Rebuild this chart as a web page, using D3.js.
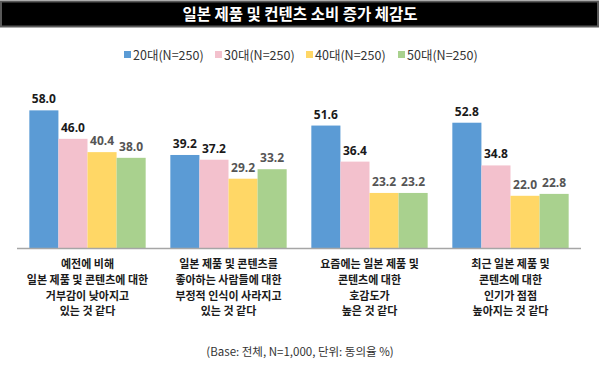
<!DOCTYPE html>
<html>
<head>
<meta charset="utf-8">
<script src="https://cdn.jsdelivr.net/npm/d3@7"></script>
<style>
  body { margin: 0; background: #fff; }
  svg { display: block; font-family: "Noto Sans CJK KR", "Noto Sans", sans-serif; }
</style>
</head>
<body>
<div id="chart"></div>
<script>
"use strict";

// categories (each label is split into lines)
var categories = [
  ["예전에 비해", "일본 제품 및 콘텐츠에 대한", "거부감이 낮아지고", "있는 것 같다"],
  ["일본 제품 및 콘텐츠를", "좋아하는 사람들에 대한", "부정적 인식이 사라지고", "있는 것 같다"],
  ["요즘에는 일본 제품 및", "콘텐츠에 대한", "호감도가", "높은 것 같다"],
  ["최근 일본 제품 및", "콘텐츠에 대한", "인기가 점점", "높아지는 것 같다"]
];
var seriesNames = ["20대(N=250)", "30대(N=250)", "40대(N=250)", "50대(N=250)"];
var age20 = [58.0, 39.2, 51.6, 52.8];
var age30 = [46.0, 37.2, 36.4, 34.8];
var age40 = [40.4, 29.2, 23.2, 22.0];
var age50 = [38.0, 33.2, 23.2, 22.8];
var seriesValues = [age20, age30, age40, age50];
var colors = ["#5b9bd5", "#f3c1cd", "#ffd766", "#a9d18e"];
var labelColors = ["#1a1a1a", "#1a1a1a", "#555555", "#555555"];

var width = 600, height = 375;

var svg = d3.select("#chart")
            .append("svg")
            .attr("width", width)
            .attr("height", height);

// title bar
svg.append("rect")
   .attr("x", 1)
   .attr("y", 1.5)
   .attr("width", 597)
   .attr("height", 25)
   .attr("fill", "#000")
   .attr("stroke", "#595959")
   .attr("stroke-width", 2);
svg.append("text")
   .attr("x", 300)
   .attr("y", 20)
   .attr("text-anchor", "middle")
   .attr("fill", "#fff")
   .attr("font-size", 15.5)
   .attr("font-weight", 700)
   .text("일본 제품 및 컨텐츠 소비 증가 체감도");

// legend
var legendX = [124, 215, 306, 398];
var legend = svg.selectAll(".legend")
    .data(seriesNames)
    .enter()
    .append("g")
    .attr("transform", function (d, i) { return "translate(" + legendX[i] + ",55)"; });
legend.append("rect")
   .attr("x", 0)
   .attr("y", -4)
   .attr("width", 7)
   .attr("height", 7)
   .attr("fill", function (d, i) { return colors[i]; });
legend.append("text")
   .attr("x", 9)
   .attr("y", 4.5)
   .attr("font-size", 12.5)
   .attr("fill", "#333")
   .text(function (d) { return d; });

// scales
var x0 = d3.scaleBand()
           .domain(d3.range(categories.length))
           .range([17, 581])
           .paddingInner(0.175)
           .paddingOuter(0.0875);
var x1 = d3.scaleBand()
           .domain(d3.range(seriesNames.length))
           .range([0, x0.bandwidth()]);
var y = d3.scaleLinear()
          .domain([0, 60])
          .range([248, 248 - 60 * 2.373]);

// bars
var groups = svg.selectAll(".group")
    .data(categories)
    .enter()
    .append("g")
    .attr("transform", function (d, i) { return "translate(" + x0(i) + ",0)"; });

groups.selectAll("rect")
   .data(function (d, i) { return seriesValues.map(function (s, j) { return { s: j, v: s[i] }; }); })
   .enter()
   .append("rect")
   .attr("x", function (d) { return x1(d.s); })
   .attr("y", function (d) { return y(d.v); })
   .attr("width", x1.bandwidth())
   .attr("height", function (d) { return y(0) - y(d.v); })
   .attr("fill", function (d) { return colors[d.s]; });

groups.selectAll(".val")
   .data(function (d, i) { return seriesValues.map(function (s, j) { return { s: j, v: s[i] }; }); })
   .enter()
   .append("text")
   .attr("x", function (d) { return x1(d.s) + x1.bandwidth() / 2; })
   .attr("y", function (d) { return y(d.v) - 7; })
   .attr("text-anchor", "middle")
   .attr("font-size", 12)
   .attr("font-weight", 700)
   .attr("font-family", "'Open Sans', sans-serif")
   .attr("fill", function (d) { return labelColors[d.s]; })
   .text(function (d) { return d.v.toFixed(1); });

// baseline
svg.append("line")
   .attr("x1", 17)
   .attr("x2", 581)
   .attr("y1", y(0) + 0.5)
   .attr("y2", y(0) + 0.5)
   .attr("stroke", "#a6a6a6")
   .attr("stroke-width", 1.5);

// category labels
groups.append("text")
   .attr("text-anchor", "middle")
   .attr("font-size", 11)
   .attr("font-weight", 700)
   .attr("fill", "#1a1a1a")
   .selectAll("tspan")
   .data(function (d) { return d; })
   .enter()
   .append("tspan")
   .attr("x", x0.bandwidth() / 2)
   .attr("y", function (d, i) { return 268 + i * 15.8; })
   .text(function (d) { return d; });

// footnote
svg.append("text")
   .attr("x", 300)
   .attr("y", 356)
   .attr("text-anchor", "middle")
   .attr("font-size", 11.5)
   .attr("fill", "#333")
   .text("(Base: 전체, N=1,000, 단위: 동의율 %)");
</script>
</body>
</html>
